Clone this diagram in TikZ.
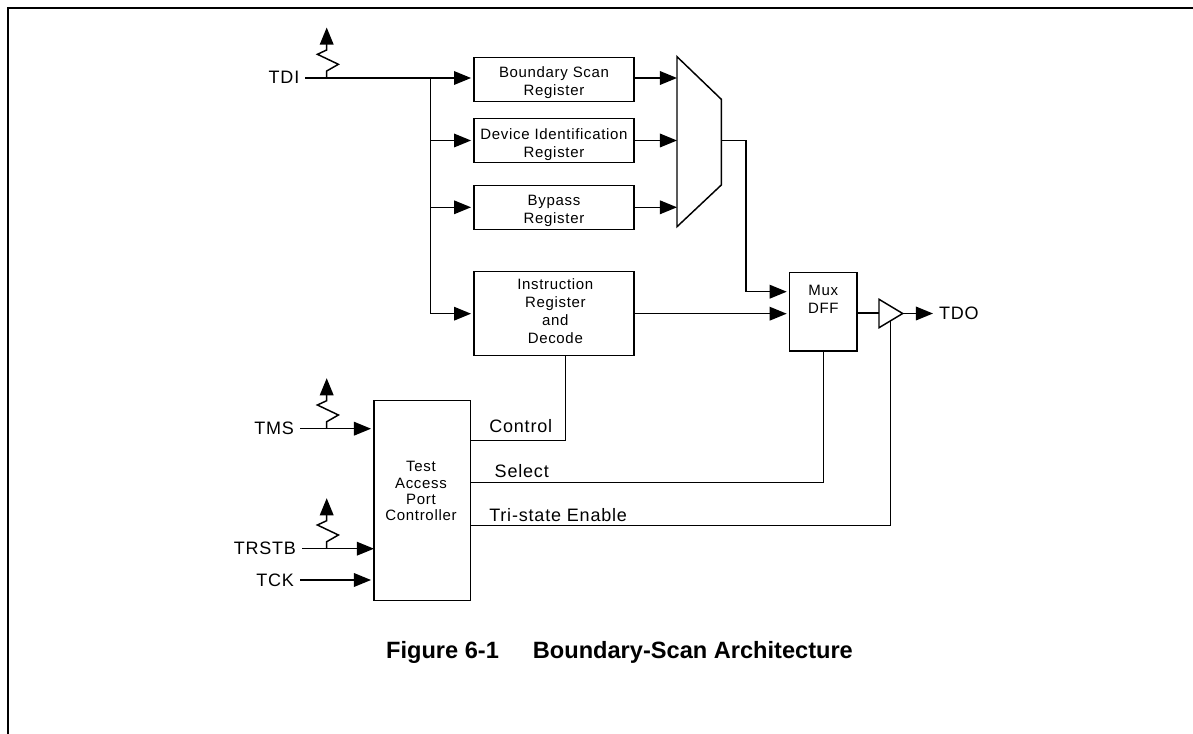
\documentclass[tikz,border=0pt]{standalone}
\usepackage{fontspec}
\setmainfont{Liberation Sans}
\newfontfamily\spacedfont[LetterSpace=4.5]{Liberation Sans}
\usetikzlibrary{arrows.meta, positioning}

\begin{document}
\begin{tikzpicture}[
    x=0.75pt, y=-0.75pt,
    every node/.style={outer sep=0pt},
    wire/.style={line width=1.1pt},
    arrow/.style={-{Triangle[length=12.8pt, width=10.2pt]}, line width=1.1pt},
    gaparrow/.style={arrow, shorten >=2.2pt},
    regbox/.style={rectangle, draw=black, line width=1.1pt, minimum width=120pt, minimum height=33pt, inner sep=0pt},
    regtext/.style={font=\fontsize{11.25}{13.5}\selectfont\spacedfont, align=center, inner sep=0pt},
    pinlabel/.style={font=\fontsize{13.5}{16}\selectfont\spacedfont, text height=9.7pt, text depth=1.5pt, inner ysep=0pt, inner xsep=4.5pt},
    wirelabel/.style={font=\fontsize{13.5}{16}\selectfont\spacedfont, anchor=west, text height=9.7pt, text depth=0pt, inner sep=0pt},
    caption/.style={font=\fontsize{17.7}{21}\selectfont\bfseries, inner sep=0pt},
    pics/pullup/.style={code={
        \draw[arrow] (0,0) -- ++(0,-7) -- ++(11.7,-6.7) -- ++(-21,-10) -- ++(9.3,-4.3) -- ++(0,-22.5);
    }}
]
\useasboundingbox (0,0) rectangle (1193,734);

% Page frame
\draw[line width=1.5pt] (8,734) -- (8,8) -- (1193,8);

% Registers
\node[regbox] (bsr) at (554,79.7) {};
\node[regbox, below=12.6pt of bsr] (dir) {};
\node[regbox, below=17.1pt of dir] (bypass) {};
\node[regbox, below=31.8pt of bypass, minimum height=63pt] (instr) {};
\node[regtext, yshift=-2.2pt] (bsrtext) at (bsr.center) {Boundary Scan\\Register};
\node[regtext, yshift=-2.8pt] (dirtext) at (dir.center) {Device Identification\\Register};
\node[regtext, yshift=-2.8pt] (bypasstext) at (bypass.center) {Bypass\\Register};
\node[regtext, xshift=1pt, yshift=2pt] (instrtext) at (instr.center) {Instruction\\Register\\and\\Decode};

% Test access port controller
\node[regbox, minimum width=72.5pt, minimum height=150pt] (tap) at (422.3,500.7) {};
\node[regtext, font=\fontsize{11.25}{12.3}\selectfont\spacedfont] (taptext) at (421,491.3) {Test\\Access\\Port\\Controller};

% Mux DFF
\node[regbox, minimum width=50.5pt, minimum height=58.8pt] (dff) at (823.3,311.9) {};
\node[regtext, font=\fontsize{11.25}{13.7}\selectfont\spacedfont] (dfftext) at (823.3,299.3) {Mux\\DFF};

% Pin labels
\node[pinlabel, anchor=east] (tdi) at (305.3,78) {TDI};
\node[pinlabel, anchor=east] (tms) at (300,428.7) {TMS};
\node[pinlabel, anchor=east] (trstb) at (302,548.7) {TRSTB};
\node[pinlabel, anchor=east, text depth=0pt] (tck) at (300,580) {TCK};
\node[pinlabel, anchor=west, text depth=0pt] (tdo) at (933,313.5) {TDO};

% Scan mux outline
\coordinate (muxtl) at (677,56.7);
\coordinate (muxtr) at (721.3,99.3);
\coordinate (muxbr) at (721.3,185);
\coordinate (muxbl) at (677,226.7);
\coordinate (muxout) at (721.3,140.7);
\draw[wire] (muxtl) -- (muxtr) -- (muxbr) -- (muxbl) -- cycle;

% Output buffer
\coordinate (buftop) at (879,299.3);
\coordinate (bufbot) at (879,327.7);
\coordinate (bufapex) at (902.7,313.5);
\coordinate (bufin) at (879,313);
\coordinate (bufen) at (890.7,321);
\draw[wire] (buftop) -- (bufapex) -- (bufbot) -- cycle;

% Helper points for the wires
\coordinate (trunk) at (430.7,78);
\coordinate (dffin) at (789.7,291.7);
\coordinate (ctrlbend) at (565.7,440.3);
\coordinate (selend) at (470.7,482.3);
\coordinate (enend) at (470.7,525.7);

% TDI fan out
\draw[gaparrow] (tdi.east) -- (tdi.east -| bsr.west);
\draw[gaparrow] (trunk) |- (dir.west);
\draw[gaparrow] (trunk) |- (bypass.west);
\draw[gaparrow] (trunk) |- (instr.west);

% Registers to mux
\draw[arrow] (bsr.east |- tdi.east) -- (muxtl |- tdi.east);
\draw[arrow] (dir.east) -- (dir.east -| muxtl);
\draw[arrow] (bypass.east) -- (bypass.east -| muxtl);

% Into and out of Mux DFF
\draw[gaparrow] (muxout) -- ++(24.7,0) |- (dffin);
\draw[gaparrow] (instr.east) -- (instr.east -| dff.west);
\draw[wire] (dff.east |- bufin) -- (bufin);
\draw[arrow] (bufapex) -- (tdo.west);

% Controller inputs
\draw[gaparrow] (tms.east) -- (tms.east -| tap.west);
\draw[arrow] (trstb.east) -- (trstb.east -| tap.west);
\draw[gaparrow] (tck.east) -- (tck.east -| tap.west);

% Controller outputs
\draw[wire] (ctrlbend |- instr.south) -- (ctrlbend) -- (ctrlbend -| tap.east);
\draw[wire] (dff.south) |- (selend);
\draw[wire] (bufen) |- (enend);
\node[wirelabel] (control) at (489.3,425.7) {Control};
\node[wirelabel] (select) at (494.7,471) {Select};
\node[wirelabel] (enable) at (489.3,515) {Tri-state Enable};

% Pull ups
\pic at (326.7,78) {pullup};
\pic at (326.7,428.7) {pullup};
\pic at (326.7,548.7) {pullup};

% Caption
\node[caption] (figcaption) at (619.5,652.5) {Figure 6-1\hspace{25.5pt}Boundary-Scan Architecture};

\end{tikzpicture}
\end{document}
